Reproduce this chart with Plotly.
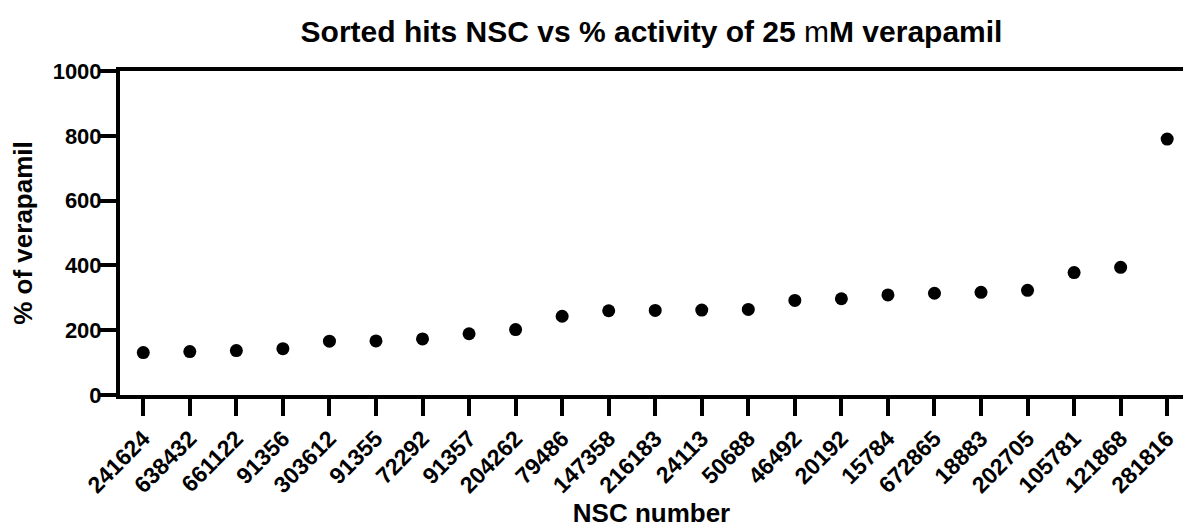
import plotly.graph_objects as go

nsc_numbers = ["241624", "638432", "661122", "91356", "303612", "91355", "72292",
               "91357", "204262", "79486", "147358", "216183", "24113", "50688",
               "46492", "20192", "15784", "672865", "18883", "202705", "105781",
               "121868", "281816"]
pct_verapamil = [131, 134, 137, 143, 166, 167, 173, 189, 202, 243, 260, 261, 262,
                 264, 292, 297, 309, 314, 317, 323, 378, 394, 790]
y_ticks = [0, 200, 400, 600, 800, 1000]

FONT = "Liberation Sans, Arial, sans-serif"
xpos = list(range(len(nsc_numbers)))

fig = go.Figure(go.Scatter(
    x=xpos, y=pct_verapamil, mode="markers",
    marker=dict(color="black", size=13),
    showlegend=False, hoverinfo="skip",
))

fig.update_layout(
    width=1183, height=531,
    margin=dict(l=120, r=0, t=71, b=136),
    paper_bgcolor="white", plot_bgcolor="white",
    font=dict(family=FONT, color="black"),
    title=dict(
        text="<b>Sorted hits NSC vs % activity of 25 <span style='font-weight:normal'>m</span>M verapamil</b>",
        x=0.5, xref="paper", xanchor="center",
        y=1 - 31 / 531, yref="container", yanchor="middle",
        font=dict(size=30, family=FONT, color="black"),
    ),
)

fig.update_xaxes(
    range=[-0.5, 22.34],
    tickmode="array", tickvals=xpos, ticktext=nsc_numbers,
    tickangle=-45,
    tickfont=dict(size=23, family=FONT, color="black", weight="bold"),
    ticks="outside", ticklen=17, tickwidth=4, tickcolor="black",
    showline=True, linewidth=4, linecolor="black", mirror=True,
    showgrid=False, zeroline=False,
    title=dict(text="<b>NSC number</b>", font=dict(size=26, family=FONT, color="black"), standoff=2),
)
fig.update_yaxes(
    range=[0, 1000],
    tickmode="array", tickvals=y_ticks, ticktext=[str(v) for v in y_ticks],
    tickfont=dict(size=22, family=FONT, color="black", weight="bold"),
    ticks="outside", ticklen=16, tickwidth=4, tickcolor="black",
    ticklabelstandoff=-6,
    showline=True, linewidth=4, linecolor="black", mirror=False,
    showgrid=False, zeroline=False,
    title=dict(text="<b>% of verapamil</b>", font=dict(size=26, family=FONT, color="black"), standoff=14),
)

fig.write_html("out.html")
